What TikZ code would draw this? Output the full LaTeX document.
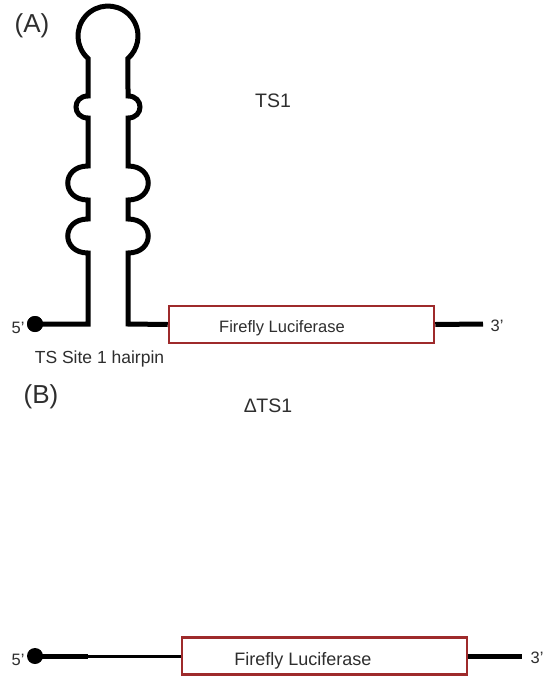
\documentclass[tikz,border=0pt]{standalone}
\usepackage{fontspec}
\setmainfont{Liberation Sans}
\begin{document}
\begin{tikzpicture}[x=1pt,y=-1pt,
  txt/.style={text=black!82, inner sep=0pt, anchor=base},
  strand/.style={line width=5pt, line join=miter},
  thin strand/.style={line width=3pt},
  lucbox/.style={draw=boxred, line width=2.5pt, fill=white, inner sep=0pt, minimum width=#1, minimum height=37pt},
  fivedot/.style={circle, fill=black, minimum size=16pt, inner sep=0pt},
  panel/.style={txt, font=\fontsize{26}{30}\selectfont},
  title/.style={txt, font=\fontsize{19.5}{23}\selectfont},
  endlab/.style={txt, font=\fontsize{16.5}{19}\selectfont},
]
\definecolor{boxred}{HTML}{9E2A2B}
\useasboundingbox (0,0) rectangle (545,677);
\fill[white] (0,0) rectangle (545,677);

% ---------------- Panel A ----------------
\node[panel] (labA) at (32,33) {(A)};
\node[title] (ts1) at (273,107) {TS1};

\node[lucbox=265pt] (boxA) at (301.5,324.5) {};
\node[txt, font=\fontsize{16.5}{19}\selectfont] (lucA) at (282,332) {Firefly Luciferase};

\node[fivedot] (dotA) at (35,324) {};
\node[endlab] (fiveA) at (18,333) {5'};
\coordinate (endA) at (483,324);
\node[endlab] (threeA) at (497,331) {3'};

\draw[strand] (dotA.center) -- (88,324) -- (88,253)
  .. controls (61,253) and (61,219) .. (88,219) -- (88,200)
  .. controls (61,200) and (61,166) .. (88,166) -- (88,118)
  .. controls (72,118) and (72,96) .. (88,96) -- (88,58.4)
  arc[start angle=131.8, end angle=408.2, radius=30]
  -- (128,96)
  .. controls (144,96) and (144,118) .. (128,118) -- (128,166)
  .. controls (155,166) and (155,200) .. (128,200) -- (128,219)
  .. controls (155,219) and (155,253) .. (128,253) -- (128,324) -- (boxA.west);
\node[fivedot] at (dotA) {};
\draw[strand] (boxA.east) -- (endA);

\node[txt, font=\fontsize{17.5}{20}\selectfont] (hairpin) at (99.5,363) {TS Site 1 hairpin};

% ---------------- Panel B ----------------
\node[panel] (labB) at (41,403) {(B)};
\node[title] (dts1) at (268,412) {Δ\kern-0.5pt TS1};

\node[lucbox=285pt] (boxB) at (324.5,656) {};
\node[txt, font=\fontsize{18}{21}\selectfont] (lucB) at (303,665) {Firefly Luciferase};

\node[fivedot] (dotB) at (35,656) {};
\node[endlab] (fiveB) at (18,665) {5'};
\coordinate (midB) at (88,656);
\coordinate (endB) at (522,656);
\node[endlab] (threeB) at (537,663) {3'};

\draw[strand] (dotB.center) -- (midB);
\draw[thin strand] (midB) -- (boxB.west);
\draw[strand] (boxB.east) -- (endB);
\end{tikzpicture}
\end{document}
